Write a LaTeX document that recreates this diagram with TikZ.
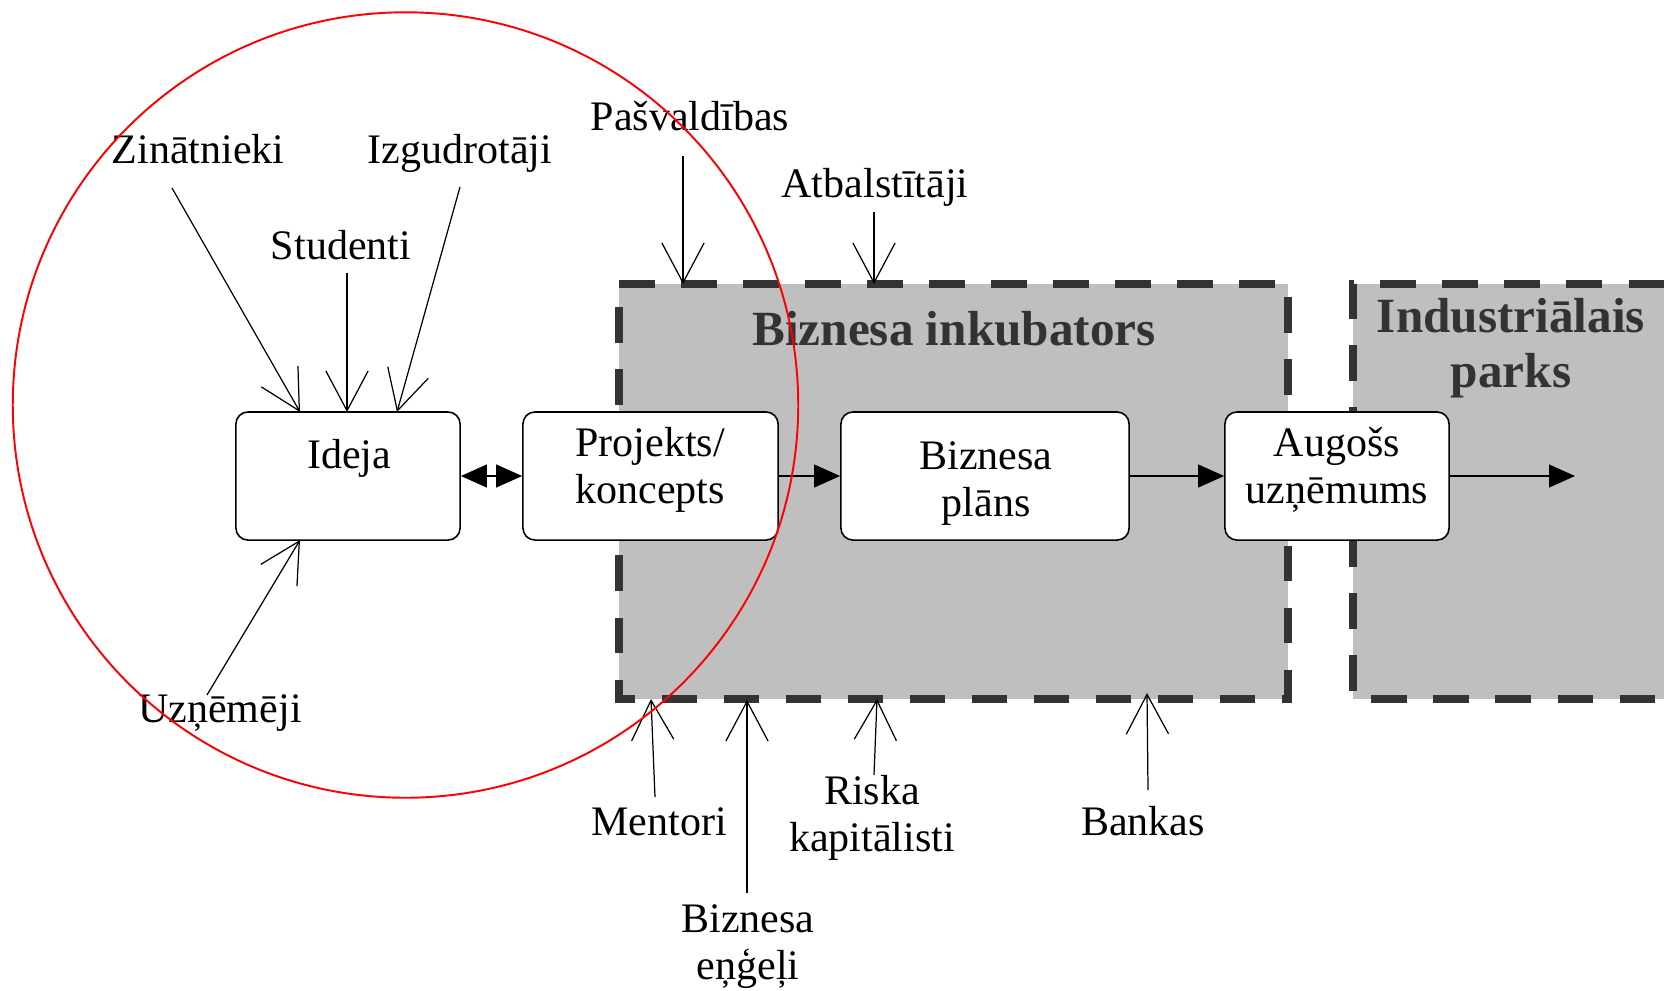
\documentclass[tikz,border=0pt]{standalone}
\usepackage{fontspec}
\setmainfont{Liberation Serif}
\usetikzlibrary{arrows.meta}
\definecolor{boxgray}{RGB}{191,191,191}
\definecolor{dashgray}{RGB}{51,51,51}
\begin{document}
\begin{tikzpicture}[x=0.01cm,y=-0.01cm,
  lbl/.style={font=\fontsize{11.95pt}{13.1pt}\selectfont, inner sep=0pt, anchor=base, align=center},
  boldlbl/.style={font=\fontsize{14pt}{15.4pt}\selectfont\bfseries, text=dashgray, inner sep=0pt, anchor=base, align=center},
  stage/.style={draw=black, line width=0.45pt, fill=white, rounded corners=3.4pt, minimum width=#1, minimum height=1.28cm, inner sep=0pt},
  feed/.style={line width=0.35pt, -{Straight Barb[length=11.3pt,width=12pt]}},
  flow/.style={line width=0.45pt, -{Triangle[length=7.4pt,width=6.5pt]}},
  zone/.style={line width=2.28pt, draw=dashgray, dash pattern=on 10.1pt off 7.54pt},
]
\useasboundingbox (0,0) rectangle (1664,990);

% zones
\fill[boxgray] (619,284) rectangle (1288,699);
\fill[boxgray] (1353,284) rectangle (1664,699);
\draw[zone] (619,284) -- (1288,284) -- (1288,699) -- (619,699) -- cycle;
\draw[zone] (1664,284) -- (1353,284) -- (1353,699) -- (1664,699);
\node[boldlbl] (tInk) at (954,345) {Biznesa inkubators};
\node[boldlbl] (tInd) at (1511,387) {Industriālais\\parks};

% stage boxes
\node[stage=2.24cm] (ideja) at (348,476) {};
\node[stage=2.55cm] (proj) at (650.5,476) {};
\node[stage=2.88cm] (plans) at (985,476) {};
\node[stage=2.24cm] (aug) at (1337,476) {};
\node[lbl] (tIdeja) at (349,468) {Ideja};
\node[lbl] (tProj) at (650,503) {Projekts/\\koncepts};
\node[lbl] (tPlans) at (986,516) {Biznesa\\plāns};
\node[lbl] (tAug) at (1337,503) {Augošs\\uzņēmums};

% flow arrows
\draw[line width=0.45pt, {Triangle[length=7.4pt,width=6.5pt]}-{Triangle[length=7.4pt,width=6.5pt]}] (ideja.east) -- (proj.west);
\draw[flow] (proj.east) -- (plans.west);
\draw[flow] (plans.east) -- (aug.west);
\coordinate (out) at (1575,476);
\draw[flow] (aug.east) -- (out);

% actor labels
\node[lbl] (zin) at (198,163) {Zinātnieki};
\node[lbl] (stu) at (341,259) {Studenti};
\node[lbl] (izg) at (460,163) {Izgudrotāji};
\node[lbl] (pas) at (690,130) {Pašvaldības};
\node[lbl] (atb) at (875,197) {Atbalstītāji};
\node[lbl] (uzn) at (220,722) {Uzņēmēji};
\node[lbl] (men) at (659,835) {Mentori};
\node[lbl] (eng) at (748,979) {Biznesa\\eņģeļi};
\node[lbl] (ris) at (872,851) {Riska\\kapitālisti};
\node[lbl] (ban) at (1143,835) {Bankas};

% feed connectors
\coordinate (zinA) at (172,188);  \coordinate (zinB) at (300,412);
\coordinate (stuA) at (347,273);  \coordinate (stuB) at (347,412);
\coordinate (izgA) at (460,187);  \coordinate (izgB) at (397,412);
\coordinate (pasA) at (683,156);  \coordinate (pasB) at (683,284);
\coordinate (atbA) at (874,212);  \coordinate (atbB) at (874,284);
\coordinate (uznA) at (207,695);  \coordinate (uznB) at (300,540);
\coordinate (menA) at (655,797);  \coordinate (menB) at (651,699);
\coordinate (engA) at (747,893);  \coordinate (engB) at (747,700);
\coordinate (risA) at (874,775);  \coordinate (risB) at (877,699);
\coordinate (banA) at (1148,790); \coordinate (banB) at (1147,693);
\draw[feed] (zinA) -- (zinB);
\draw[feed] (stuA) -- (stuB);
\draw[feed] (izgA) -- (izgB);
\draw[feed] (pasA) -- (pasB);
\draw[feed] (atbA) -- (atbB);
\draw[feed] (uznA) -- (uznB);
\draw[feed] (menA) -- (menB);
\draw[feed] (engA) -- (engB);
\draw[feed] (risA) -- (risB);
\draw[feed] (banA) -- (banB);

% red circle
\node[circle, draw=red, line width=0.55pt, minimum size=7.85cm, inner sep=0pt] (focus) at (405.5,405) {};
\end{tikzpicture}
\end{document}
